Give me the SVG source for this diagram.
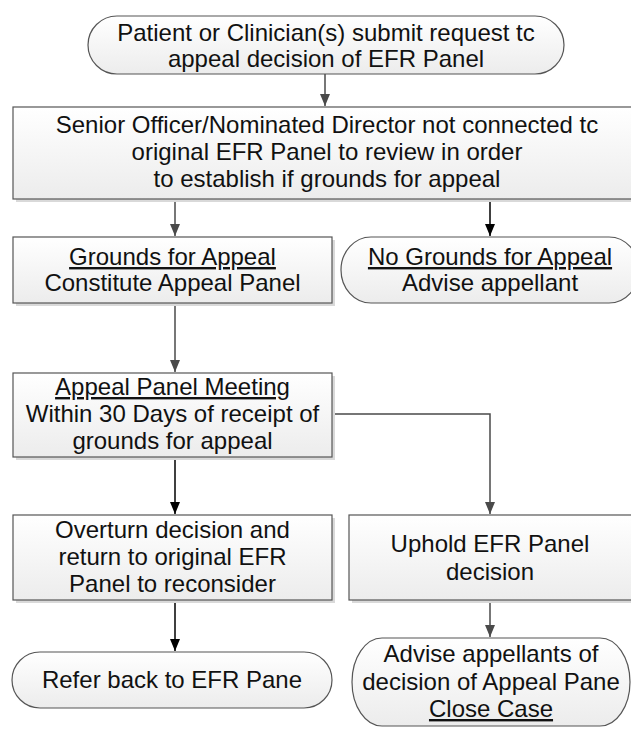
<svg xmlns="http://www.w3.org/2000/svg" width="631" height="729" viewBox="0 0 631 729">
<defs>
<linearGradient id="g" x1="0" y1="0" x2="0" y2="1">
<stop offset="0" stop-color="#ffffff"/>
<stop offset="1" stop-color="#ececec"/>
</linearGradient>
<marker id="ag" markerWidth="10" markerHeight="12" refX="5" refY="12" orient="auto-start-reverse" markerUnits="userSpaceOnUse" viewBox="0 0 10 12">
<path d="M0,0 L10,0 L5,12 Z" fill="#4a4a4a" transform="rotate(-90 5 6) translate(0 0)"/>
</marker>
<marker id="ab" markerWidth="10" markerHeight="12" refX="5" refY="12" orient="auto-start-reverse" markerUnits="userSpaceOnUse" viewBox="0 0 10 12">
<path d="M0,0 L10,0 L5,12 Z" fill="#000000" transform="rotate(-90 5 6)"/>
</marker>
<style>
.box{fill:url(#g);stroke:#555;stroke-width:1.2}
.sh{fill:#d9d9d9}
.t{font-family:"Liberation Sans",Arial,sans-serif;font-size:24px;fill:#111;text-anchor:middle}
.u{text-decoration:underline}
.cg{fill:none;stroke:#4a4a4a;stroke-width:1.5}
.cb{fill:none;stroke:#000;stroke-width:1.5}
</style>
</defs>
<g id="connectors">
<path class="cg" d="M325,74 V106"/>
<path class="cg" d="M175,199 V236"/>
<path class="cb" d="M490,199 V236"/>
<path class="cg" d="M175,303 V372"/>
<path class="cb" d="M175,457 V514"/>
<path class="cg" d="M332,414 H490 V514"/>
<path class="cb" d="M175,600 V651"/>
<path class="cg" d="M490,600 V637"/>
<path d="M320,94 L330,94 L325,106 Z" fill="#4a4a4a"/>
<path d="M170,224 L180,224 L175,236 Z" fill="#4a4a4a"/>
<path d="M485,224 L495,224 L490,236 Z" fill="#000"/>
<path d="M170,360 L180,360 L175,372 Z" fill="#4a4a4a"/>
<path d="M170,502 L180,502 L175,514 Z" fill="#000"/>
<path d="M485,502 L495,502 L490,514 Z" fill="#4a4a4a"/>
<path d="M170,639 L180,639 L175,651 Z" fill="#000"/>
<path d="M485,625 L495,625 L490,637 Z" fill="#4a4a4a"/>
</g>
<g id="start">
<rect class="box" x="88" y="16" width="476" height="58" rx="29" ry="29"/>
<text class="t" x="326" y="41">Patient or Clinician(s) submit request tc</text>
<text class="t" x="326" y="67">appeal decision of EFR Panel</text>
</g>
<g id="review">
<rect class="sh" x="16" y="110" width="628" height="92"/>
<rect class="box" x="13" y="107" width="628" height="92"/>
<text class="t" x="327" y="133">Senior Officer/Nominated Director not connected tc</text>
<text class="t" x="327" y="160">original EFR Panel to review in order</text>
<text class="t" x="327" y="187">to establish if grounds for appeal</text>
</g>
<g id="grounds">
<rect class="sh" x="16" y="240" width="319" height="66"/>
<rect class="box" x="13" y="237" width="319" height="66"/>
<text class="t u" x="172.5" y="265">Grounds for Appeal</text>
<text class="t" x="172.5" y="291">Constitute Appeal Panel</text>
</g>
<g id="nogrounds">
<rect class="box" x="341" y="237" width="298" height="66" rx="30" ry="33"/>
<text class="t u" x="490" y="265">No Grounds for Appeal</text>
<text class="t" x="490" y="291">Advise appellant</text>
</g>
<g id="meeting">
<rect class="sh" x="16" y="376" width="319" height="84"/>
<rect class="box" x="13" y="373" width="319" height="84"/>
<text class="t u" x="172.5" y="395">Appeal Panel Meeting</text>
<text class="t" x="172.5" y="422">Within 30 Days of receipt of</text>
<text class="t" x="172.5" y="449">grounds for appeal</text>
</g>
<g id="overturn">
<rect class="sh" x="16" y="518" width="319" height="85"/>
<rect class="box" x="13" y="515" width="319" height="85"/>
<text class="t" x="172.5" y="538">Overturn decision and</text>
<text class="t" x="172.5" y="565">return to original EFR</text>
<text class="t" x="172.5" y="592">Panel to reconsider</text>
</g>
<g id="uphold">
<rect class="sh" x="352" y="518" width="284" height="85"/>
<rect class="box" x="349" y="515" width="284" height="85"/>
<text class="t" x="490" y="552">Uphold EFR Panel</text>
<text class="t" x="490" y="580">decision</text>
</g>
<g id="refer">
<rect class="box" x="12" y="652" width="320" height="56" rx="28" ry="28"/>
<text class="t" x="172" y="688">Refer back to EFR Pane</text>
</g>
<g id="advise">
<rect class="box" x="352" y="638" width="278" height="88" rx="30" ry="44"/>
<text class="t" x="491" y="662">Advise appellants of</text>
<text class="t" x="491" y="690">decision of Appeal Pane</text>
<text class="t u" x="491" y="717">Close Case</text>
</g>
</svg>
